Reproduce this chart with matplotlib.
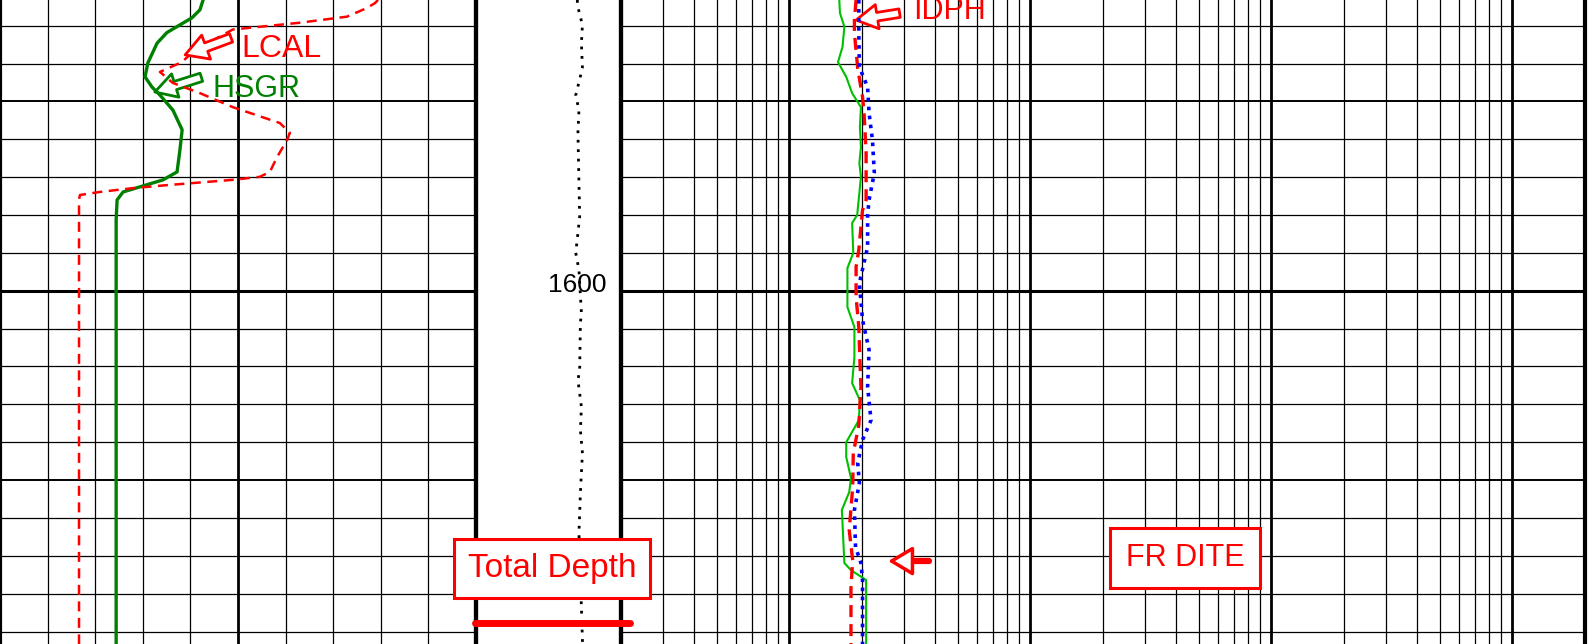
'''

  Well log panel: GR / caliper, depth track, resistivity

'''

import numpy as np
from matplotlib import pyplot as plt
from matplotlib import transforms

plt.rcParams['font.family'] = ['Liberation Sans', 'DejaVu Sans']

# Depth window (m)
top_depth = 1592.32
base_depth = 1609.33
td_depth = 1608.77
fr_dite_depth = 1607.14

# Track 1: HSGR (gAPI, 0-150) and LCAL (in, 6-16)
hsgr_depth = [1592.32, 1592.58, 1592.79, 1593.18, 1593.46, 1593.98, 1594.35, 1594.62, 1594.83,
              1595.23, 1595.75, 1596.28, 1596.86, 1597.07, 1597.39, 1597.60, 1598.13, 1609.33]
hsgr = [64.0, 63.0, 60.5, 52.6, 49.5, 46.6, 45.7, 47.9, 50.4,
        54.5, 57.4, 56.7, 55.8, 51.4, 38.8, 36.9, 36.6, 36.6]

lcal_depth = [1592.32, 1592.40, 1592.53, 1592.76, 1592.92, 1593.10, 1593.64, 1593.96, 1594.22,
              1594.51, 1594.78, 1595.15, 1595.57, 1595.83, 1596.02, 1596.47, 1596.86, 1596.99,
              1597.07, 1597.21, 1597.29, 1597.39, 1597.47, 1597.60, 1609.33]
lcal = [13.94, 13.88, 13.71, 13.29, 12.30, 10.89, 10.10, 9.82, 9.36,
        9.63, 10.20, 10.89, 11.88, 12.09, 12.03, 11.82, 11.67, 11.46,
        10.89, 9.51, 8.79, 8.10, 7.68, 7.66, 7.66]

# Depth track: dotted curve (0-10 across track)
tens_depth = [1592.32, 1592.45, 1592.98, 1593.46, 1594.12, 1594.83, 1595.23, 1595.83, 1597.15,
              1598.05, 1599.00, 1599.45, 1600.59, 1600.85, 1602.09, 1602.36, 1603.07, 1603.68,
              1604.29, 1605.34, 1606.40, 1608.36, 1609.23, 1609.33]
tens = [6.99, 6.99, 7.34, 7.27, 7.34, 6.88, 7.10, 7.03, 7.10,
        7.15, 6.88, 7.10, 7.27, 7.20, 7.15, 7.03, 7.27, 7.20,
        7.34, 7.20, 7.10, 7.27, 7.34, 7.34]

# Track 3: resistivities (ohm.m, log 0.2-2000)
rt_g_depth = [1592.32, 1592.66, 1593.03, 1593.56, 1593.96, 1594.35, 1594.78, 1595.15, 1595.68,
              1596.21, 1596.63, 1596.99, 1597.42, 1598.00, 1598.21, 1599.00, 1599.40, 1600.43,
              1600.96, 1601.75, 1602.44, 1602.89, 1603.42, 1604.00, 1604.39, 1604.95, 1605.32,
              1605.79, 1607.19, 1607.38, 1607.64, 1609.33]
rt_g = [1.61, 1.62, 1.69, 1.66, 1.59, 1.72, 1.82, 1.98, 1.96,
        1.98, 1.95, 1.98, 1.95, 1.91, 1.82, 1.84, 1.74, 1.74,
        1.86, 1.86, 1.82, 1.96, 1.94, 1.72, 1.72, 1.80, 1.77,
        1.65, 1.69, 1.80, 2.08, 2.08]

idph_depth = [1592.32, 1592.85, 1593.19, 1594.13, 1594.88, 1595.31, 1596.36, 1597.60, 1597.87,
              1598.32, 1598.92, 1599.37, 1600.17, 1600.96, 1601.83, 1602.54, 1603.55, 1604.29,
              1605.19, 1606.32, 1607.12, 1607.83, 1609.33]
idph = [1.89, 1.86, 1.86, 1.92, 2.01, 2.04, 2.08, 2.08, 2.01,
        1.98, 1.94, 1.89, 1.89, 1.94, 1.96, 1.98, 1.94, 1.84,
        1.83, 1.77, 1.83, 1.80, 1.80]

rt_b_depth = [1592.32, 1593.19, 1594.09, 1594.62, 1595.31, 1596.02, 1596.89, 1597.60, 1598.00,
              1598.85, 1599.80, 1600.77, 1601.56, 1602.54, 1603.42, 1603.94, 1604.55, 1605.08,
              1605.79, 1606.77, 1607.19, 1607.64, 1609.33]
rt_b = [1.94, 1.94, 1.95, 2.11, 2.14, 2.21, 2.25, 2.14, 2.11,
        2.11, 1.95, 2.01, 2.14, 2.11, 2.18, 2.01, 1.92, 1.95,
        1.86, 1.88, 1.98, 2.01, 2.01]

# Figure layout (pixels -> figure fraction)
W, H = 1592., 644.
fig = plt.figure(figsize=(W/100, H/100), dpi=100)
fig.patch.set_facecolor('white')
ax1 = fig.add_axes([0, 0, 476/W, 1])
axd = fig.add_axes([476/W, 0, 145/W, 1])
ax3 = fig.add_axes([621/W, 0, 964/W, 1])
ax3.set_xscale('log')
ax3.set_xlim(0.2, 2000)

for ax in (ax1, axd, ax3):
    ax.set_ylim(base_depth, top_depth)
    ax.tick_params(which='both', bottom=False, left=False, labelbottom=False, labelleft=False)
    ax.spines['top'].set_visible(False)
    ax.spines['bottom'].set_visible(False)
    ax.spines['left'].set_linewidth(3)
    ax.spines['right'].set_linewidth(3)

# Depth grid on tracks 1 and 3
for ax in (ax1, ax3):
    for d in range(1593, 1610):
        if d % 10 == 0:
            lw = 2.2
        elif d % 5 == 0:
            lw = 1.4
        else:
            lw = 0.9
        ax.axhline(d, color='black', lw=lw, zorder=1)

arrow_simple = 'simple,head_length=0.7,head_width=0.8,tail_width=0.28'

# Track 1
ax1.set_xlim(0, 150)
for v in np.arange(15, 150, 15):
    ax1.axvline(v, color='black', lw=2.0 if v == 75 else 0.9, zorder=1)
ax1.plot(hsgr, hsgr_depth, color='green', lw=2.4, zorder=4)

ax1b = ax1.twiny()
ax1b.set_xlim(6, 16)
ax1b.set_ylim(base_depth, top_depth)
ax1b.axis('off')
ax1b.plot(lcal, lcal_depth, color='red', lw=1.8, linestyle=(0, (4.0, 2.6)), zorder=3)

ax1b.annotate('LCAL', xy=(9.89, 1593.77), xycoords='data',
              xytext=(0.592, 0.924), textcoords='axes fraction',
              ha='center', va='center', color='red', fontsize=23,
              arrowprops=dict(arrowstyle=arrow_simple, fc='white', ec='red', lw=2,
                              relpos=(0, 1), shrinkA=6, shrinkB=0))
ax1.annotate('HSGR', xy=(48.8, 1594.75), xycoords='data',
             xytext=(0.538, 0.862), textcoords='axes fraction',
             ha='center', va='center', color='green', fontsize=22,
             arrowprops=dict(arrowstyle=arrow_simple, fc='white', ec='green', lw=2,
                             relpos=(0, 1), shrinkA=6, shrinkB=0))

# Depth track
axd.set_xlim(0, 10)
axd.patch.set_visible(False)
axd.set_zorder(1)
trans = transforms.blended_transform_factory(axd.transAxes, axd.transData)
axd.plot(tens, tens_depth, color='black', lw=2.0, linestyle=(0, (1, 2.4)), zorder=2)
axd.text(0.70, 1599.86, '1600', transform=trans,
         ha='center', va='center', fontsize=19, color='black', zorder=3)
axd.plot([-0.01, 1.06], [td_depth, td_depth], transform=trans, color='red', lw=5,
         solid_capstyle='round', clip_on=False, zorder=5)

fig.text(552/W, 1 - 568/H, 'Total Depth', ha='center', va='center', color='red', fontsize=24,
         bbox=dict(boxstyle='square,pad=0.42', fc='white', ec='red', lw=2.2), zorder=6)

# Track 3 (log)
ax3.patch.set_visible(False)
for e in [-1, 0, 1, 2, 3]:
    for k in range(1, 10):
        v = k * 10.0**e
        if v <= 0.2 or v >= 2000:
            continue
        ax3.axvline(v, color='black', lw=2.0 if k == 1 else 0.9, zorder=1)
ax3.plot(rt_g, rt_g_depth, color='#00c000', lw=1.5, zorder=3)
ax3.plot(idph, idph_depth, color='red', lw=2.4, linestyle=(0, (3.6, 2.1)), zorder=4)
ax3.plot(rt_b, rt_b_depth, color='blue', lw=2.6, linestyle=(0, (1, 1.5)), zorder=4)

ax3.annotate('IDPH', xy=(1.89, 1592.85), xycoords='data',
             xytext=(0.341, 0.983), textcoords='axes fraction',
             ha='center', va='center', color='red', fontsize=22,
             arrowprops=dict(arrowstyle=arrow_simple, fc='white', ec='red', lw=2,
                             relpos=(0, 0.5), shrinkA=8, shrinkB=0))

# FR DITE marker
ax3.plot([3.25, 3.8], [fr_dite_depth, fr_dite_depth], color='red', lw=4.5, solid_capstyle='round', zorder=5)
ax3.annotate('', xy=(2.57, fr_dite_depth), xytext=(3.3, fr_dite_depth),
             arrowprops=dict(arrowstyle='-|>,head_length=1.5,head_width=0.9',
                             fc='white', ec='red', lw=2.5, shrinkA=0, shrinkB=0), zorder=5)
ax3.text((1185 - 621)/964., 1 - 558/H, 'FR DITE', transform=ax3.transAxes,
         ha='center', va='center', color='red', fontsize=22,
         bbox=dict(boxstyle='square,pad=0.5', fc='white', ec='red', lw=2.2), zorder=6)

plt.savefig('out.png', dpi=100)
